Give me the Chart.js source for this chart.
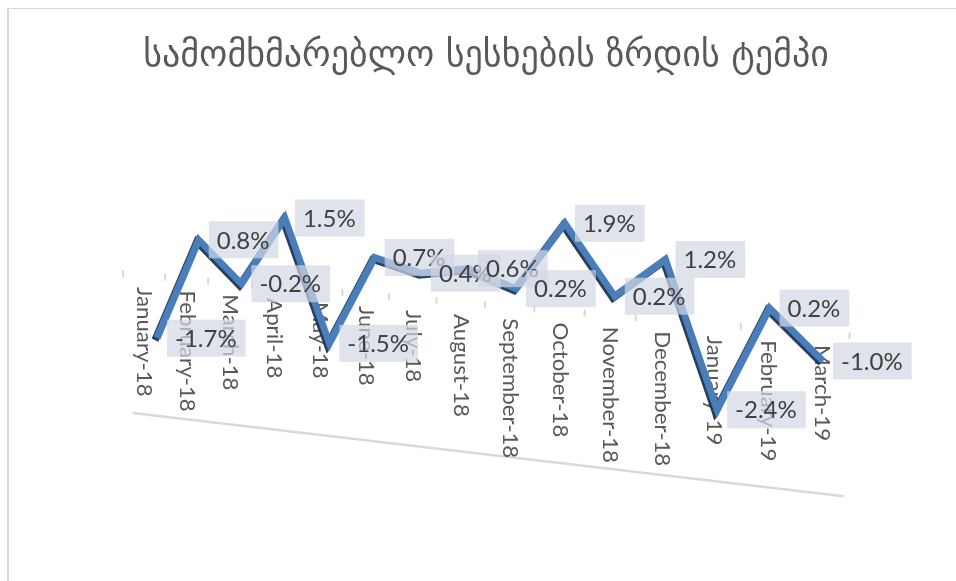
<!DOCTYPE html>
<html>
<head>
<meta charset="utf-8">
<title>სამომხმარებლო სესხების ზრდის ტემპი</title>
<script src="https://cdn.jsdelivr.net/npm/chart.js@4.4.1/dist/chart.umd.min.js"></script>
<style>
  html, body { margin: 0; padding: 0; background: #fff; overflow: hidden; }
  #wrap { position: absolute; left: 0; top: 0; width: 956px; height: 581px; }
  #frame { position: absolute; left: 7px; top: 8px; right: 0; bottom: 0; border-left: 2px solid #d9d9d9; border-top: 1px solid #d9d9d9; pointer-events: none; }
</style>
</head>
<body>
<div id="wrap"><canvas id="chart" width="956" height="581"></canvas></div>
<div id="frame"></div>
<script>
const chartTitle = "სამომხმარებლო სესხების ზრდის ტემპი";
const months = [
    "January-18", "February-18", "March-18", "April-18", "May-18", "June-18",
    "July-18", "August-18", "September-18", "October-18", "November-18",
    "December-18", "January-19", "February-19", "March-19",
];
const growth = [-1.7, 0.8, -0.2, 1.5, -1.5, 0.7, 0.4, 0.6, 0.2, 1.9, 0.2, 1.2, -2.4, 0.2, -1.0];

const DEPTH = 0.132;   // how much the columns widen toward the front
const SHEAR = 0.077;   // the plot tilts down to the right

// category axis whose spacing grows left to right, like a receding floor
class DepthCategoryScale extends Chart.CategoryScale {
    getPixelForDecimal(decimal) {
        return super.getPixelForDecimal(decimal + DEPTH * (decimal * decimal - decimal));
    }
}
DepthCategoryScale.id = "depthCategory";
DepthCategoryScale.defaults = Chart.CategoryScale.defaults;
Chart.register(DepthCategoryScale);

const pct = (v) => v.toFixed(1) + "%";

// empty side axes, only there to inset the plot from the title width
const spacer = (position, width) => ({
    position: position,
    display: true,
    grid: { display: false },
    border: { display: false },
    ticks: { display: false },
    afterFit(scale) { scale.width = width; },
});

const depthPlugin = {
    id: "depth",
    beforeDatasetsDraw(chart) {
        const { ctx, chartArea, scales } = chart;
        const left = chartArea.left;
        const baseY = scales.y.getPixelForValue(0);
        const labelX = (i) => left - 13 + (scales.x.getPixelForValue(i) - left) * 1.018;
        const tickTop = (px) => baseY + 4 + 0.0855 * (px - left);

        ctx.save();
        // floor edge
        const x1 = labelX(-0.5) + 10;
        const x2 = labelX(months.length - 0.5) - 6;
        ctx.strokeStyle = "#d9d9d9";
        ctx.lineWidth = 2.5;
        ctx.beginPath();
        ctx.moveTo(x1, baseY + 144);
        ctx.lineTo(x2, baseY + 144 + 0.117 * (x2 - x1));
        ctx.stroke();

        // tick marks between categories
        ctx.lineWidth = 2;
        for (let j = 0; j <= months.length; j++) {
            const tx = labelX(j - 0.5);
            ctx.beginPath();
            ctx.moveTo(tx, tickTop(tx));
            ctx.lineTo(tx, tickTop(tx) + 7);
            ctx.stroke();
        }

        // category names, reading downward
        ctx.fillStyle = "#595959";
        ctx.font = "21px Lato";
        ctx.textAlign = "left";
        ctx.textBaseline = "middle";
        months.forEach((m, i) => {
            const lx = labelX(i);
            ctx.save();
            ctx.translate(lx, tickTop(lx) + 15);
            ctx.rotate(Math.PI / 2);
            ctx.scale(1.06, 1);
            ctx.fillText(m, 0, 0);
            ctx.restore();
        });
        ctx.restore();

        // tilt the series and give it a dark edge
        ctx.save();
        ctx.transform(1, SHEAR, 0, 1, 0, -SHEAR * left);
        ctx.shadowColor = "rgba(28, 52, 82, 0.95)";
        ctx.shadowOffsetX = -2;
        ctx.shadowOffsetY = 2;
        ctx.shadowBlur = 0;
    },
    afterDatasetsDraw(chart) {
        const { ctx, chartArea } = chart;
        ctx.restore();

        const left = chartArea.left;
        const meta = chart.getDatasetMeta(0);
        ctx.save();
        ctx.font = "24px Lato";
        ctx.textAlign = "left";
        ctx.textBaseline = "middle";
        meta.data.forEach((pt, i) => {
            const px = pt.x;
            const py = pt.y + SHEAR * (px - left);
            const text = pct(growth[i]);
            const w = ctx.measureText(text).width + 17;
            const h = 37;
            ctx.fillStyle = "rgba(209, 215, 228, 0.7)";
            ctx.fillRect(px + 10, py - h / 2, w, h);
            ctx.fillStyle = "#404040";
            ctx.fillText(text, px + 18, py + 1);
        });
        ctx.restore();
    },
};

const data = {
    labels: months,
    datasets: [
        {
            label: chartTitle,
            data: growth,
            borderColor: "#4a7ebb",
            borderWidth: 7,
            borderJoinStyle: "miter",
            pointRadius: 0,
            tension: 0,
            clip: false,
        },
    ],
};

const config = {
    type: "line",
    data: data,
    options: {
        responsive: false,
        devicePixelRatio: 1,
        animation: false,
        layout: {
            padding: { left: 136, right: 120, top: 35, bottom: 190 },
        },
        scales: {
            x: { type: "depthCategory", display: false, offset: false },
            y: Object.assign(spacer("left", 21), { min: -3, max: 3 }),
            yRight: spacer("right", 13),
        },
        plugins: {
            legend: { display: false },
            tooltip: { enabled: false },
            title: {
                display: true,
                text: chartTitle,
                color: "#595959",
                font: { family: "DejaVu Sans", size: 36, weight: "normal", lineHeight: 1.2 },
                padding: { top: 0, bottom: 69 },
            },
        },
    },
    plugins: [depthPlugin],
};

new Chart(document.getElementById("chart"), config);
</script>
</body>
</html>
